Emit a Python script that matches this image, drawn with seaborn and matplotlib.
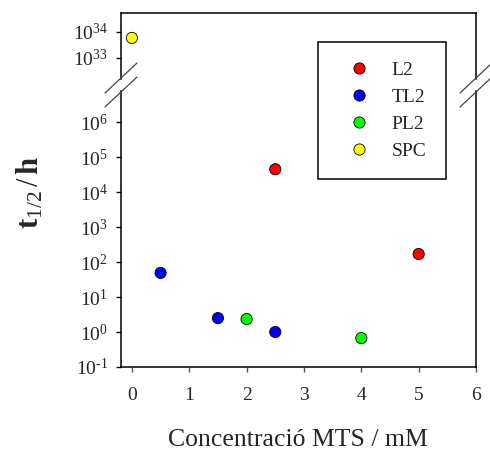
import numpy as np
import pandas as pd
import matplotlib
matplotlib.use("Agg")
import matplotlib.pyplot as plt
import seaborn as sns
from matplotlib.lines import Line2D
from matplotlib.ticker import FixedLocator, NullLocator

# ---- data ----
l2_x = [2.5, 5.0]
l2_y = [4.5e4, 170.0]
tl2_x = [0.5, 1.5, 2.5]
tl2_y = [49.0, 2.5, 1.0]
pl2_x = [2.0, 4.0]
pl2_y = [2.35, 0.67]
spc_x = [0.0]
spc_y = [5.9e33]
series = ["L2", "TL2", "PL2", "SPC"]
colors = ["#ff0000", "#0000ff", "#00ff00", "#ffff00"]
x_ticks = [0, 1, 2, 3, 4, 5, 6]
low_exps = [-1, 0, 1, 2, 3, 4, 5, 6]
high_exps = [33, 34]

df = pd.DataFrame({
    "x": l2_x + tl2_x + pl2_x + spc_x,
    "y": l2_y + tl2_y + pl2_y + spc_y,
    "serie": ["L2"] * len(l2_x) + ["TL2"] * len(tl2_x) + ["PL2"] * len(pl2_x) + ["SPC"] * len(spc_x),
})

sns.set_theme(style="white")
plt.rcParams["font.family"] = ["Liberation Serif", "DejaVu Serif"]
plt.rcParams["mathtext.fontset"] = "custom"
plt.rcParams["mathtext.rm"] = "Liberation Serif"
plt.rcParams["mathtext.it"] = "Liberation Serif"
plt.rcParams["mathtext.bf"] = "Liberation Serif:bold"

W, H = 490, 450
fig = plt.figure(figsize=(W / 100, H / 100), dpi=100)

def fx(px):
    return px / W

def fy(py):
    return 1 - py / H

left, right = 121, 476
ax_top = fig.add_axes([fx(left), fy(79), fx(right) - fx(left), fy(13) - fy(79)])
ax_low = fig.add_axes([fx(left), fy(367), fx(right) - fx(left), fy(91) - fy(367)])

palette = dict(zip(series, colors))
for ax in (ax_top, ax_low):
    sns.scatterplot(data=df, x="x", y="y", hue="serie", hue_order=series, palette=palette,
                    s=65, edgecolor="black", linewidth=0.6, ax=ax, legend=(ax is ax_low), zorder=3)
    ax.set_yscale("log")
    ax.set_xlim(-0.19, 6)
    ax.set_xlabel("")
    ax.set_ylabel("")
    for sp in ax.spines.values():
        sp.set_color("black")
        sp.set_linewidth(1.1)
    ax.tick_params(axis="both", which="major", direction="out", length=3.5, width=1,
                   color="black", labelsize=14, pad=6, left=True, bottom=True)
    ax.yaxis.set_minor_locator(NullLocator())

ax_top.set_ylim(10 ** 32.19, 10 ** 34.73)
ax_low.set_ylim(10 ** -1, 10 ** 6.89)

ax_top.yaxis.set_major_locator(FixedLocator([10.0 ** e for e in high_exps]))
ax_top.set_yticklabels([f"$10^{{{e}}}$" for e in high_exps])
ax_low.yaxis.set_major_locator(FixedLocator([10.0 ** e for e in low_exps]))
ax_low.set_yticklabels([f"$10^{{{e}}}$".replace("-", r"\text{-}") for e in low_exps])

ax_top.spines["bottom"].set_visible(False)
ax_top.tick_params(axis="x", bottom=False, labelbottom=False)
ax_low.spines["top"].set_visible(False)
ax_low.set_xticks(x_ticks)
ax_low.set_xticklabels([str(t) for t in x_ticks])
ax_low.tick_params(axis="x", pad=11, color="#555555")

# break marks
for cx in (left, right):
    for cy in (78, 92):
        fig.add_artist(Line2D([fx(cx - 16), fx(cx + 16)], [fy(cy + 15), fy(cy - 15)],
                              color="#444444", lw=0.9))

# labels
fig.text(fx(298), fy(440), "Concentració MTS / mM", ha="center", va="center", fontsize=18.5)
fig.text(fx(30), fy(192), r"$\mathbf{t}_{1/2}\,/\,\mathbf{h}$", rotation=90,
         ha="center", va="center", fontsize=22)

# legend
sns.move_legend(ax_low, loc="upper left", bbox_to_anchor=(fx(318), fy(42)),
                bbox_transform=fig.transFigure, title=None, frameon=True,
                fontsize=14, borderpad=1.0, labelspacing=0.48, handlelength=2.2,
                handletextpad=0.6, fancybox=False, framealpha=1, borderaxespad=0)
leg = ax_low.get_legend()
leg.get_frame().set_edgecolor("black")
leg.get_frame().set_linewidth(1.1)
leg.set_zorder(10)

fig.savefig("out.png", dpi=100)
